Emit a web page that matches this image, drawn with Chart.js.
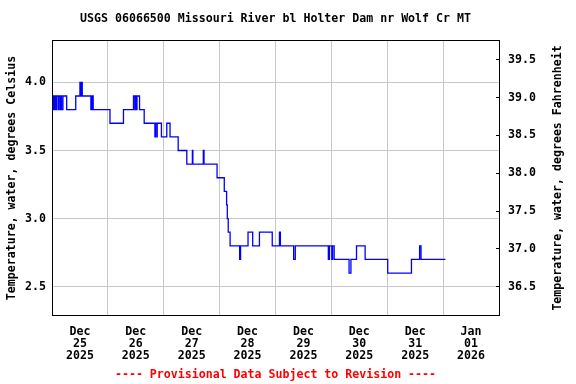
<!DOCTYPE html>
<html><head><meta charset="utf-8">
<script src="https://cdn.jsdelivr.net/npm/chart.js@4.4.0/dist/chart.umd.min.js"></script>
<style>html,body{margin:0;padding:0;background:#fff}</style>
</head><body>
<canvas id="c" width="576" height="384"></canvas>
<script>
// Hours since Dec 25 2025 00:00 at which the reading changes, and the new reading (deg C)
const hoursSinceDec25 = [0,0.7,1.0,1.5,1.8,2.1,2.8,3.0,3.6,3.9,4.1,4.7,6.3,10.2,12.0,12.3,12.5,13.0,16.7,16.9,17.2,17.4,17.7,24.9,30.7,35.0,35.6,35.8,36.3,36.5,37.6,39.6,44.2,44.4,45.0,45.2,47.0,49.3,50.7,54.2,57.9,60.3,60.5,65.0,65.3,70.9,74.0,75.0,75.3,75.7,76.5,80.6,81.0,84.2,86.2,89.1,94.6,97.7,98.1,103.8,104.5,118.7,119.2,120.2,120.5,121.2,127.6,128.4,130.8,134.5,144.2,154.4,157.9,158.5,169.0];
const tempCelsius = [3.8,3.9,3.8,3.9,3.8,3.9,3.8,3.9,3.8,3.9,3.8,3.9,3.8,3.9,4.0,3.9,4.0,3.9,3.8,3.9,3.8,3.9,3.8,3.7,3.8,3.9,3.8,3.9,3.8,3.9,3.8,3.7,3.6,3.7,3.6,3.7,3.6,3.7,3.6,3.5,3.4,3.5,3.4,3.5,3.4,3.3,3.2,3.1,3.0,2.9,2.8,2.7,2.8,2.9,2.8,2.9,2.8,2.9,2.8,2.7,2.8,2.7,2.8,2.7,2.8,2.7,2.6,2.7,2.8,2.7,2.6,2.7,2.8,2.7,2.7];
const dayLabels = [['Dec','25','2025'],['Dec','26','2025'],['Dec','27','2025'],['Dec','28','2025'],['Dec','29','2025'],['Dec','30','2025'],['Dec','31','2025'],['Jan','01','2026']];
const celsiusTicks = [2.5,3.0,3.5,4.0];
const fahrenheitTicks = [36.5,37.0,37.5,38.0,38.5,39.0,39.5];
const titleText = 'USGS 06066500 Missouri River bl Holter Dam nr Wolf Cr MT';
const footerText = '---- Provisional Data Subject to Revision ----';
const leftAxisTitle = 'Temperature, water, degrees Celsius';
const rightAxisTitle = 'Temperature, water, degrees Fahrenheit';

const yMin = 2.285, yMax = 4.311;
const xMax = dayLabels.length * 24;
const FONT = "'DejaVu Sans Mono', 'Liberation Mono', monospace";
const fnt = {family: FONT, size: 11.6, weight: 'bold', lineHeight: 1.2};

const xTickValues = [];
dayLabels.forEach((l, i) => { xTickValues.push(i * 24, i * 24 + 12); });
xTickValues.push(xMax);

const points = hoursSinceDec25.map((h, i) => ({x: h, y: tempCelsius[i]}));

// right-hand axis title reads bottom-to-top like the left one
const rightTitlePlugin = {
  id: 'rightTitle',
  afterDraw(chart) {
    const ctx = chart.ctx, a = chart.chartArea;
    ctx.save();
    ctx.translate(558, (a.top + a.bottom) / 2);
    ctx.rotate(-Math.PI / 2);
    ctx.font = 'bold 11.6px ' + FONT;
    ctx.fillStyle = '#000';
    ctx.textAlign = 'center';
    ctx.textBaseline = 'middle';
    ctx.fillText(rightAxisTitle, 0, 0);
    ctx.restore();
  }
};

new Chart(document.getElementById('c'), {
  type: 'line',
  data: {datasets: [{
    data: points, borderColor: '#0000ff', borderWidth: 1.3, pointRadius: 0,
    stepped: 'before', fill: false, tension: 0
  }]},
  plugins: [rightTitlePlugin],
  options: {
    responsive: false, animation: false, devicePixelRatio: 1,
    layout: {padding: 0},
    plugins: {
      legend: {display: false}, tooltip: {enabled: false},
      title: {display: true, text: titleText, color: '#000', fullSize: false,
        font: fnt, padding: {top: 12, bottom: 14.1}},
      subtitle: {display: true, position: 'bottom', text: footerText, color: '#ff0000', fullSize: false,
        font: fnt, padding: {top: 6.5, bottom: 2.1}}
    },
    scales: {
      x: {type: 'linear', position: 'bottom', min: 0, max: xMax,
        afterBuildTicks: s => { s.ticks = xTickValues.map(v => ({value: v})); },
        afterFit: s => { s.height = 45.5; },
        ticks: {autoSkip: false, maxRotation: 0, color: '#000', padding: 9.5,
          font: {family: FONT, size: 11.6, weight: 'bold', lineHeight: 1.05},
          callback: v => (v % 24 === 12 ? dayLabels[(v - 12) / 24] : '')},
        grid: {drawTicks: false, lineWidth: 1,
          color: c => (c.tick && c.tick.value % 24 === 0 && c.tick.value > 0 && c.tick.value < xMax) ? '#c8c8c8' : 'rgba(0,0,0,0)'},
        border: {display: true, color: '#000', width: 1}
      },
      xTop: {type: 'linear', position: 'top', min: 0, max: xMax,
        ticks: {display: false},
        grid: {drawOnChartArea: false, drawTicks: false},
        border: {display: true, color: '#000', width: 1}
      },
      y: {type: 'linear', position: 'left', min: yMin, max: yMax,
        afterBuildTicks: s => { s.ticks = celsiusTicks.map(v => ({value: v})); },
        afterFit: s => { s.width = 52; },
        ticks: {color: '#000', padding: 6, font: fnt, callback: v => Number(v).toFixed(1)},
        grid: {drawTicks: false, color: '#c8c8c8', lineWidth: 1},
        border: {display: true, color: '#000', width: 1},
        title: {display: true, text: leftAxisTitle, color: '#000', font: fnt, padding: {top: 5, bottom: 0}}
      },
      yF: {type: 'linear', position: 'right', min: yMin * 1.8 + 32, max: yMax * 1.8 + 32,
        afterBuildTicks: s => { s.ticks = fahrenheitTicks.map(v => ({value: v})); },
        afterFit: s => { s.width = 77; },
        ticks: {color: '#000', padding: 12, font: fnt, callback: v => Number(v).toFixed(1)},
        grid: {drawOnChartArea: false, drawTicks: true, tickLength: -3, color: '#000'},
        border: {display: true, color: '#000', width: 1}
      }
    }
  }
});
</script>
</body></html>
